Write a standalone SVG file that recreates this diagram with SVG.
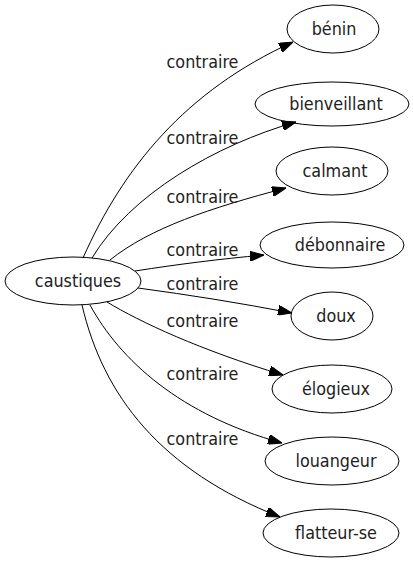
<svg xmlns="http://www.w3.org/2000/svg" width="413" height="563" viewBox="0 0 413 563">
<style>
text{font-family:"DejaVu Sans Condensed","DejaVu Sans",sans-serif;font-stretch:condensed;font-size:17.8px;fill:#222;text-anchor:middle}
ellipse{fill:none;stroke:#000;stroke-width:1}
.e path{fill:none;stroke:#000;stroke-width:1;marker-end:url(#ah)}
</style>
<defs>
<marker id="ah" viewBox="0 0 14 10" refX="14" refY="5" markerWidth="14" markerHeight="10" markerUnits="userSpaceOnUse" orient="auto">
<path d="M0,0 L14,5 L0,10 Z" fill="#000" stroke="#000"/>
</marker>
</defs>
<rect width="413" height="563" fill="#fff"/>
<g id="edges" class="e">
<path d="M83,258 C123,168 185,91 293,42"/>
<path d="M92,258 C130,195 215,145 296,122"/>
<path d="M110,260 C150,228 210,208 286,188"/>
<path d="M135,271 C180,264 220,259 264,255"/>
<path d="M138,288 C190,295 240,303 292,313"/>
<path d="M107,302 C140,322 200,350 283,375"/>
<path d="M90,305 C120,360 180,415 282,443"/>
<path d="M82,305 C103,395 160,470 280,517"/>
</g>
<g id="labels">
<text x="202.5" y="68">contraire</text>
<text x="202.5" y="144">contraire</text>
<text x="202.5" y="203">contraire</text>
<text x="202.5" y="256">contraire</text>
<text x="202.5" y="290">contraire</text>
<text x="202.5" y="327">contraire</text>
<text x="202.5" y="380">contraire</text>
<text x="202.5" y="445">contraire</text>
</g>
<g id="caustiques"><ellipse cx="73" cy="281" rx="68" ry="24"/><text x="78" y="287">caustiques</text></g>
<g id="benin"><ellipse cx="333" cy="29" rx="46" ry="24"/><text x="334" y="35">bénin</text></g>
<g id="bienveillant"><ellipse cx="332" cy="104" rx="77" ry="22"/><text x="336" y="110">bienveillant</text></g>
<g id="calmant"><ellipse cx="332" cy="171" rx="56" ry="24"/><text x="335" y="177">calmant</text></g>
<g id="debonnaire"><ellipse cx="332" cy="245" rx="72" ry="23"/><text x="340" y="251">débonnaire</text></g>
<g id="doux"><ellipse cx="332" cy="316" rx="41" ry="24"/><text x="336" y="322">doux</text></g>
<g id="elogieux"><ellipse cx="332" cy="389" rx="60" ry="24"/><text x="336" y="395">élogieux</text></g>
<g id="louangeur"><ellipse cx="332" cy="461" rx="67" ry="24"/><text x="336" y="467">louangeur</text></g>
<g id="flatteur-se"><ellipse cx="331" cy="533" rx="68" ry="24"/><text x="336" y="539">flatteur-se</text></g>
</svg>
